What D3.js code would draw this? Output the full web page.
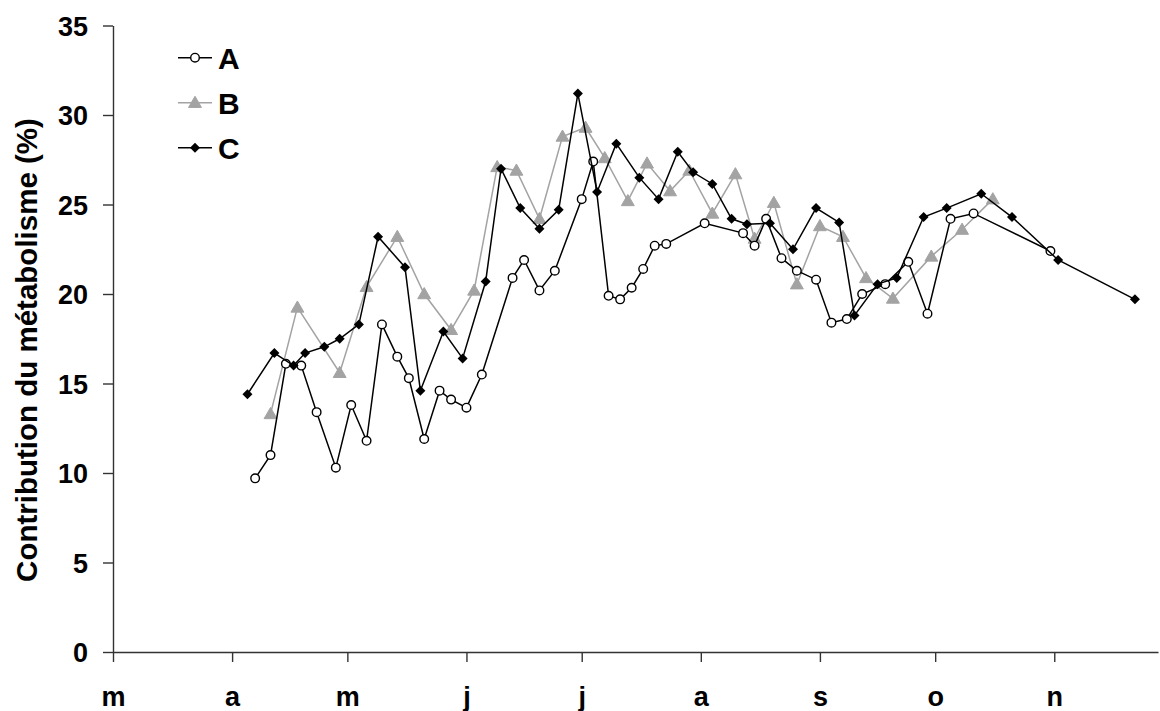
<!DOCTYPE html>
<html><head><meta charset="utf-8">
<script src="https://cdn.jsdelivr.net/npm/d3@7"></script>
<style>body{margin:0;background:#fff} svg{display:block}</style>
</head><body><svg id="c" width="1160" height="711"></svg>
<script>
const monthLabels = ["m","a","m","j","j","a","s","o","n"];
const yTicks = [0,5,10,15,20,25,30,35];
const seriesNames = ["A","B","C"];

const datesA = ["04-07","04-11","04-15","04-19","04-23","04-28","05-02","05-06","05-10","05-14","05-17","05-21","05-25","05-28","06-01","06-05","06-13","06-16","06-20","06-24","07-01","07-04","07-08","07-11","07-14","07-17","07-20","07-23","08-02","08-12","08-15","08-18","08-22","08-26","08-31","09-04","09-08","09-12","09-18","09-24","09-29","10-05","10-11","10-31"];
const valuesA = [9.7,11.0,16.1,16.0,13.4,10.3,13.8,11.8,18.3,16.5,15.3,11.9,14.6,14.1,13.65,15.5,20.9,21.9,20.2,21.3,25.3,27.4,19.9,19.7,20.35,21.4,22.7,22.8,23.95,23.4,22.7,24.2,22.0,21.3,20.8,18.4,18.6,20.0,20.55,21.8,18.9,24.2,24.5,22.4];

const datesB = ["04-11","04-18","04-29","05-06","05-14","05-21","05-28","06-03","06-09","06-14","06-20","06-26","07-02","07-07","07-13","07-18","07-24","07-29","08-04","08-10","08-15","08-20","08-26","09-01","09-07","09-13","09-20","09-30","10-08","10-16"];
const valuesB = [13.3,19.25,15.6,20.4,23.2,20.0,18.0,20.2,27.1,26.9,24.2,28.8,29.3,27.6,25.2,27.3,25.75,26.9,24.5,26.7,23.1,25.1,20.55,23.8,23.2,20.9,19.75,22.1,23.6,25.3];

const datesC = ["04-05","04-12","04-17","04-20","04-25","04-29","05-04","05-09","05-16","05-20","05-26","05-31","06-06","06-10","06-15","06-20","06-25","06-30","07-05","07-10","07-16","07-21","07-26","07-30","08-04","08-09","08-13","08-19","08-25","08-31","09-06","09-10","09-16","09-21","09-28","10-04","10-13","10-21","11-02","11-22"];
const valuesC = [14.4,16.7,16.0,16.7,17.05,17.5,18.3,23.2,21.5,14.6,17.9,16.4,20.7,27.0,24.8,23.65,24.7,31.2,25.7,28.4,26.5,25.3,27.95,26.8,26.15,24.2,23.9,23.95,22.5,24.8,24.0,18.8,20.55,20.9,24.3,24.8,25.6,24.3,21.9,19.7];

const parse = d3.timeParse("%Y-%m-%d");
const toDate = s => parse("2003-" + s);
const zip = (ds, vs) => ds.map((d, i) => ({x: toDate(d), y: vs[i]}));
const dataA = zip(datesA, valuesA), dataB = zip(datesB, valuesB), dataC = zip(datesC, valuesC);

const svg = d3.select("#c");
const font = "Arial, 'Liberation Sans', sans-serif";
const x = d3.scaleTime().domain([toDate("03-01"), toDate("11-28")]).range([113, 1158]);
const y = d3.scaleLinear().domain([0, 35]).range([652, 25.5]);

// axes
const monthTicks = d3.timeMonth.range(toDate("03-01"), toDate("11-02"));
const gx = svg.append("g").attr("transform", "translate(0,652)")
  .call(d3.axisBottom(x).tickValues(monthTicks).tickSize(10).tickSizeOuter(0)
    .tickFormat((d, i) => monthLabels[i]));
gx.selectAll("text").attr("y", 54).attr("dy", 0)
  .style("font-family", font).style("font-weight", "bold").style("font-size", "27px").attr("fill", "#000");
const gy = svg.append("g").attr("transform", "translate(113,0)")
  .call(d3.axisLeft(y).tickValues(yTicks).tickSize(10).tickSizeOuter(0).tickPadding(15));
gy.selectAll("text").attr("dy", "0.36em")
  .style("font-family", font).style("font-weight", "bold").style("font-size", "27px").attr("fill", "#000");
svg.selectAll(".domain, .tick line").attr("stroke", "#333").attr("stroke-width", 1.4);

svg.append("text").attr("transform", "translate(37,350) rotate(-90)")
  .attr("text-anchor", "middle")
  .style("font-family", font).style("font-weight", "bold").style("font-size", "29.5px")
  .text("Contribution du métabolisme (%)");

const line = d3.line().x(d => x(d.x)).y(d => y(d.y));
const gray = "#a3a3a3";

function drawMarker(g, type, cx, cy) {
  if (type === "circle") {
    g.append("circle").attr("cx", cx).attr("cy", cy).attr("r", 4.3)
      .attr("fill", "#fff").attr("stroke", "#000").attr("stroke-width", 1.4);
  } else if (type === "tri") {
    g.append("path").attr("d", d3.symbol(d3.symbolTriangle, 72)())
      .attr("transform", `translate(${cx},${cy + 1})`).attr("fill", gray).attr("stroke", gray);
  } else {
    g.append("path").attr("d", d3.symbol(d3.symbolSquare, 50)())
      .attr("transform", `translate(${cx},${cy}) rotate(45)`).attr("fill", "#000");
  }
}

const series = [
  {name: "B", data: dataB, color: gray, marker: "tri"},
  {name: "A", data: dataA, color: "#000", marker: "circle"},
  {name: "C", data: dataC, color: "#000", marker: "diamond"}
];
series.forEach(s => {
  const g = svg.append("g");
  g.append("path").datum(s.data).attr("d", line).attr("fill", "none")
    .attr("stroke", s.color).attr("stroke-width", 1.5);
  s.data.forEach(d => drawMarker(g, s.marker, x(d.x), y(d.y)));
});

// legend
const legendTypes = {A: ["circle", "#000"], B: ["tri", gray], C: ["diamond", "#000"]};
seriesNames.forEach((n, i) => {
  const ly = 57.7 + i * 45;
  const g = svg.append("g");
  g.append("line").attr("x1", 178).attr("x2", 212).attr("y1", ly).attr("y2", ly)
    .attr("stroke", legendTypes[n][1]).attr("stroke-width", 1.5);
  drawMarker(g, legendTypes[n][0], 195, ly);
  g.append("text").attr("x", 218).attr("y", ly + 10.8)
    .style("font-family", font).style("font-weight", "bold").style("font-size", "30px").text(n);
});
</script></body></html>
